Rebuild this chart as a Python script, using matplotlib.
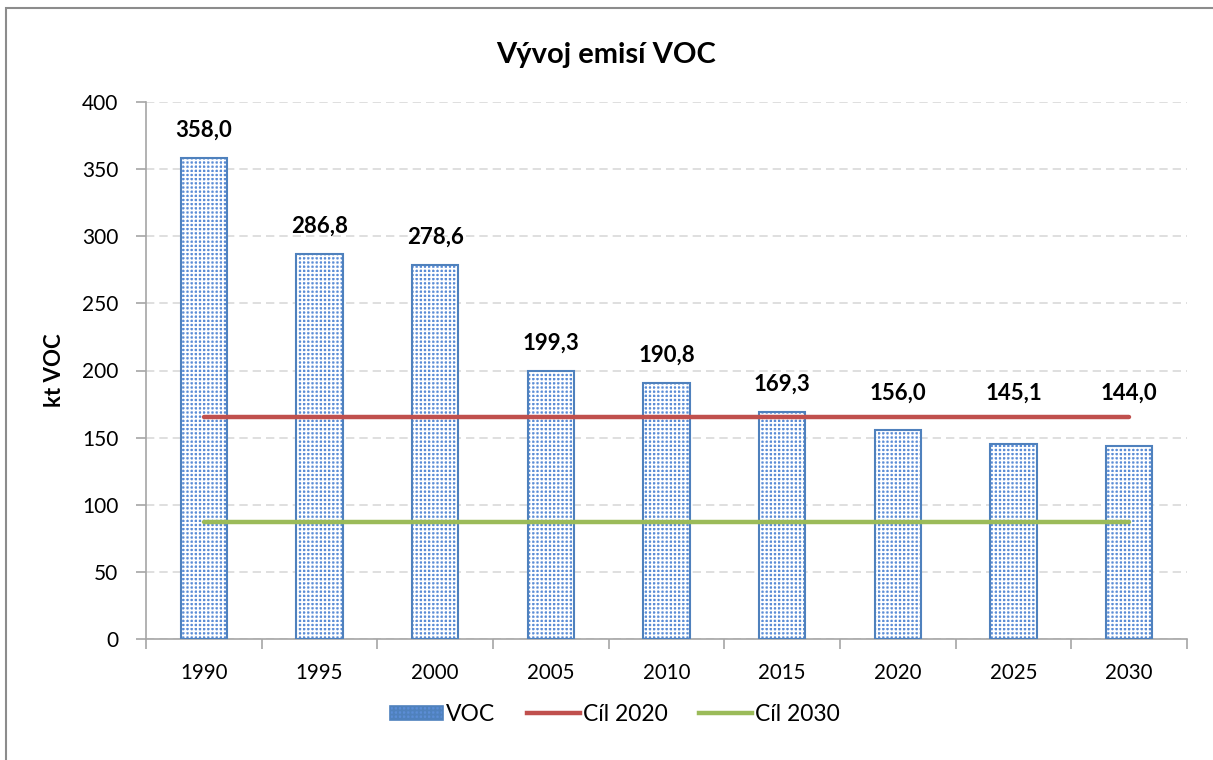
import numpy as np
import matplotlib.pyplot as plt
from matplotlib.patches import Rectangle
from matplotlib.lines import Line2D

plt.rcParams['font.family'] = ['Lato', 'DejaVu Sans']
plt.rcParams['hatch.linewidth'] = 1.3

# ---------- DATA ----------
years = ["1990", "1995", "2000", "2005", "2010", "2015", "2020", "2025", "2030"]
voc = [358.0, 286.8, 278.6, 199.3, 190.8, 169.3, 156.0, 145.1, 144.0]
cil_2020 = [165] * len(years)
cil_2030 = [87] * len(years)

blue = "#4F81BD"
fill_blue = "#5B8DD6"
red = "#C0504D"
green = "#9BBB59"

fig = plt.figure(figsize=(12.13, 7.6), dpi=100)
ax = fig.add_axes([0.1204, 0.1592, 0.8582, 0.7066])

# outer frame of the chart area
fig.patches.append(Rectangle((0.005, -0.05), 1.2, 1.039, transform=fig.transFigure,
                             fill=False, edgecolor="#8C8C8C", linewidth=1.5))

x = np.arange(len(years))
# hatched fill, then outline on top
ax.bar(x, voc, width=0.4, facecolor=fill_blue, hatch="++++", edgecolor="white",
       linewidth=0, zorder=2)
ax.bar(x, voc, width=0.4, fill=False, edgecolor=blue, linewidth=1.5, zorder=3)

ax.plot(x, cil_2020, color=red, linewidth=3.2, solid_capstyle="round", zorder=4)
ax.plot(x, cil_2030, color=green, linewidth=3.2, solid_capstyle="round", zorder=4)

# value labels, lifted above the red target line where the bar is shorter
for xi, v, c in zip(x, voc, cil_2020):
    base = max(v, c - 3)
    ax.text(xi, base + 13, f"{v:.1f}".replace(".", ","), ha="center", va="bottom",
            fontsize=16, fontweight="bold", zorder=5)

ax.set_xlim(-0.5, len(years) - 0.5)
ax.set_ylim(0, 400)
ax.set_yticks(np.arange(0, 401, 50))
ax.set_xticks(x)
ax.set_xticklabels(years)
ax.set_xticks(np.arange(-0.5, len(years), 1), minor=True)
ax.tick_params(axis="x", which="major", length=0, labelsize=14.8, pad=17)
ax.tick_params(axis="x", which="minor", length=7, color="#A6A6A6", width=1.2)
ax.tick_params(axis="y", length=7, color="#A6A6A6", width=1.2, labelsize=15, pad=13)

ax.grid(axis="y", color="#D9D9D9", linestyle=(0, (5, 3)), linewidth=1.2, zorder=0)
ax.set_axisbelow(True)
for s in ["top", "right"]:
    ax.spines[s].set_visible(False)
for s in ["left", "bottom"]:
    ax.spines[s].set_color("#A6A6A6")
    ax.spines[s].set_linewidth(1.2)

ax.set_ylabel("kt VOC", fontsize=16, fontweight="bold", labelpad=12)
fig.text(0.5, 0.927, "Vývoj emisí VOC", ha="center", va="center",
         fontsize=21, fontweight="bold")

handles = [
    Rectangle((0, 0), 1, 1, facecolor=fill_blue, hatch="++++", edgecolor=blue, linewidth=1.2),
    Line2D([0], [0], color=red, linewidth=3.2),
    Line2D([0], [0], color=green, linewidth=3.2),
]
fig.legend(handles, ["VOC", "Cíl 2020", "Cíl 2030"], loc="center",
           bbox_to_anchor=(0.507, 0.06), ncol=3, frameon=False, fontsize=16.5,
           handlelength=2.3, handleheight=0.6, handletextpad=0.12, columnspacing=1.4)

fig.savefig("out.png", dpi=100)
